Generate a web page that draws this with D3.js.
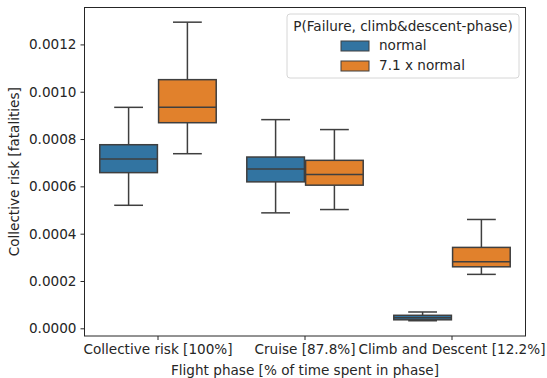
<!DOCTYPE html>
<html>
<head>
<meta charset="utf-8">
<script src="https://cdn.jsdelivr.net/npm/d3@7"></script>
<style>
  body { margin: 0; background: #fff; }
  text { font-family: "DejaVu Sans", sans-serif; fill: #262626; }
</style>
</head>
<body>
<svg id="chart" width="547" height="378"></svg>
<script>
// categories and hue groups
const phases = ['Collective risk [100%]', 'Cruise [87.8%]', 'Climb and Descent [12.2%]'];
const groups = ['normal', '7.1 x normal'];
const colors = ['#3274a1', '#e1812c'];

// box stats per phase, [whiskerLow, q1, median, q3, whiskerHigh]
const normalStats = [
  [0.000520, 0.000658, 0.000716, 0.000776, 0.000934],
  [0.000488, 0.000619, 0.000673, 0.000724, 0.000882],
  [0.000032, 0.000036, 0.000045, 0.000055, 0.000069]
];
const scaledStats = [
  [0.000738, 0.000869, 0.000934, 0.001051, 0.001294],
  [0.000502, 0.000605, 0.000650, 0.000710, 0.000840],
  [0.000228, 0.000260, 0.000281, 0.000342, 0.000460]
];
const yTicks = [0, 0.0002, 0.0004, 0.0006, 0.0008, 0.0010, 0.0012];

const svg = d3.select('#chart');
const margin = { left: 84.5, right: 21.5, top: 7.5, bottom: 42 };
const W = 547, H = 378;
const lineColor = '#3f3f3f';
const fs = 13.6;

const x = d3.scaleBand()
  .domain(phases)
  .range([margin.left, W - margin.right]);

const y = d3.scaleLinear()
  .domain([-0.0000325, 0.001356])
  .range([H - margin.bottom, margin.top]);

const hueBand = d3.scaleBand()
  .domain(groups)
  .range([0, x.bandwidth() * 0.8]);

const boxes = [];
phases.forEach((p, i) => {
  boxes.push({ phase: p, group: groups[0], s: normalStats[i], color: colors[0] });
  boxes.push({ phase: p, group: groups[1], s: scaledStats[i], color: colors[1] });
});

const plot = svg.append('g');
const boxW = hueBand.bandwidth() * 0.98;

boxes.forEach(b => {
  const cx = x(b.phase) + x.bandwidth() * 0.1 + hueBand(b.group) + hueBand.bandwidth() / 2;
  const g = plot.append('g');
  // whiskers
  g.append('line')
    .attr('x1', cx).attr('x2', cx)
    .attr('y1', y(b.s[0])).attr('y2', y(b.s[1]))
    .attr('stroke', lineColor).attr('stroke-width', 1.5);
  g.append('line')
    .attr('x1', cx).attr('x2', cx)
    .attr('y1', y(b.s[3])).attr('y2', y(b.s[4]))
    .attr('stroke', lineColor).attr('stroke-width', 1.5);
  // caps
  [b.s[0], b.s[4]].forEach(v => {
    g.append('line')
      .attr('x1', cx - boxW / 4).attr('x2', cx + boxW / 4)
      .attr('y1', y(v)).attr('y2', y(v))
      .attr('stroke', lineColor).attr('stroke-width', 1.5);
  });
  g.append('rect')
    .attr('x', cx - boxW / 2)
    .attr('y', y(b.s[3]))
    .attr('width', boxW)
    .attr('height', Math.max(y(b.s[1]) - y(b.s[3]), 0.5))
    .attr('fill', b.color)
    .attr('stroke', lineColor).attr('stroke-width', 1.5);
  g.append('line')
    .attr('x1', cx - boxW / 2).attr('x2', cx + boxW / 2)
    .attr('y1', y(b.s[2])).attr('y2', y(b.s[2]))
    .attr('stroke', lineColor).attr('stroke-width', 1.5);
});

// frame
svg.append('rect')
  .attr('x', margin.left).attr('y', margin.top)
  .attr('width', W - margin.left - margin.right)
  .attr('height', H - margin.top - margin.bottom)
  .attr('fill', 'none').attr('stroke', '#262626').attr('stroke-width', 1);

// axes
const yAxis = svg.append('g')
  .attr('transform', `translate(${margin.left},0)`)
  .call(d3.axisLeft(y).tickValues(yTicks).tickFormat(d3.format('.4f')).tickSize(4).tickPadding(4));
const xAxis = svg.append('g')
  .attr('transform', `translate(0,${H - margin.bottom})`)
  .call(d3.axisBottom(x).tickSize(4).tickPadding(4));
[yAxis, xAxis].forEach(a => {
  a.select('.domain').remove();
  a.selectAll('line').attr('stroke', '#262626');
  a.selectAll('text').attr('font-size', fs).attr('fill', '#262626')
    .attr('font-family', '"DejaVu Sans", sans-serif');
});

// axis titles
svg.append('text')
  .attr('x', (margin.left + W - margin.right) / 2)
  .attr('y', 375)
  .attr('text-anchor', 'middle')
  .attr('font-size', fs)
  .text('Flight phase [% of time spent in phase]');
svg.append('text')
  .attr('transform', `translate(19,${(margin.top + H - margin.bottom) / 2}) rotate(-90)`)
  .attr('text-anchor', 'middle')
  .attr('font-size', fs)
  .text('Collective risk [fatalities]');

// legend
const leg = svg.append('g');
leg.append('rect')
  .attr('x', 287).attr('y', 14)
  .attr('width', 232).attr('height', 64)
  .attr('rx', 3)
  .attr('fill', '#fff').attr('fill-opacity', 0.8)
  .attr('stroke', '#d6d6d6');
leg.append('text')
  .attr('x', 403).attr('y', 31)
  .attr('text-anchor', 'middle')
  .attr('font-size', fs)
  .text('P(Failure, climb&descent-phase)');
groups.forEach((gname, i) => {
  leg.append('rect')
    .attr('x', 341).attr('y', 41 + i * 20)
    .attr('width', 28).attr('height', 10)
    .attr('fill', colors[i])
    .attr('stroke', lineColor).attr('stroke-width', 1);
  leg.append('text')
    .attr('x', 379).attr('y', 50 + i * 20)
    .attr('font-size', fs)
    .text(gname);
});
</script>
</body>
</html>
